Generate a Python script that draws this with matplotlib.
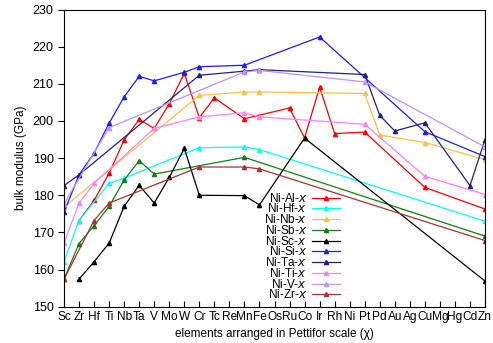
import matplotlib
matplotlib.use("Agg")
import matplotlib.pyplot as plt

plt.rcParams['font.family'] = ['Liberation Sans', 'DejaVu Sans']

# elements in Pettifor order
elements = ['Sc', 'Zr', 'Hf', 'Ti', 'Nb', 'Ta', 'V', 'Mo', 'W', 'Cr', 'Tc', 'Re', 'Mn', 'Fe',
            'Os', 'Ru', 'Co', 'Ir', 'Rh', 'Ni', 'Pt', 'Pd', 'Au', 'Ag', 'Cu', 'Mg', 'Hg', 'Cd', 'Zn']

# each series: which elements it has, and the bulk modulus there
al_el = ['Zr', 'Hf', 'Ti', 'Nb', 'Ta', 'V', 'Mo', 'W', 'Cr', 'Tc', 'Mn', 'Ru', 'Co', 'Ir', 'Rh', 'Pt', 'Cu', 'Zn']
al_b = [173.2, 178.6, 185.9, 194.9, 200.4, 198.0, 204.6, 212.8, 200.9, 206.2, 200.6, 203.5, 195.4, 209.1, 196.6, 197.0, 182.1, 176.3]

hf_el = ['Sc', 'Zr', 'Ti', 'Nb', 'Cr', 'Mn', 'Fe', 'Zn']
hf_b = [162.1, 173.2, 183.2, 184.6, 192.8, 193.0, 192.3, 173.0]

nb_el = ['Sc', 'Cr', 'Mn', 'Fe', 'Pt', 'Pd', 'Cu', 'Zn']
nb_b = [176.8, 206.9, 207.8, 207.8, 207.4, 196.2, 194.2, 189.6]

sb_el = ['Sc', 'Zr', 'Hf', 'Ti', 'Nb', 'Ta', 'V', 'Mn', 'Zn']
sb_b = [157.4, 167.0, 171.8, 177.0, 184.1, 189.3, 185.7, 190.2, 169.0]

sc_el = ['Zr', 'Hf', 'Ti', 'Nb', 'Ta', 'V', 'Mo', 'W', 'Cr', 'Mn', 'Fe', 'Co', 'Zn']
sc_b = [157.4, 162.1, 167.1, 177.0, 182.7, 177.9, 184.8, 192.6, 180.0, 179.9, 177.4, 195.4, 156.9]

si_el = ['Sc', 'Zr', 'Hf', 'Ti', 'Nb', 'Ta', 'V', 'W', 'Cr', 'Mn', 'Ir', 'Cu', 'Zn']
si_b = [175.4, 185.5, 191.3, 199.4, 206.5, 212.0, 210.8, 213.1, 214.6, 215.0, 222.6, 197.1, 190.4]

ta_el = ['Sc', 'Zr', 'Cr', 'Mn', 'Fe', 'Pt', 'Pd', 'Au', 'Cu', 'Cd', 'Zn']
ta_b = [182.6, 185.5, 212.3, 213.4, 213.8, 212.5, 201.5, 197.3, 199.5, 182.6, 195.0]

ti_el = ['Sc', 'Zr', 'Hf', 'V', 'Cr', 'Mn', 'Fe', 'Pt', 'Cu', 'Zn']
ti_b = [167.1, 177.9, 183.2, 198.0, 201.1, 202.2, 201.1, 199.1, 185.1, 180.2]

v_el = ['Sc', 'Ti', 'Mn', 'Fe', 'Pt', 'Zn']
v_b = [177.7, 198.2, 213.2, 213.6, 210.5, 193.0]

zr_el = ['Sc', 'Hf', 'Ti', 'Cr', 'Mn', 'Fe', 'Zn']
zr_b = [157.4, 173.2, 177.9, 187.6, 187.6, 187.1, 167.8]

series = [
    ('Ni-Al-$x$', al_el, al_b, '#ff0000'),
    ('Ni-Hf-$x$', hf_el, hf_b, '#00ffff'),
    ('Ni-Nb-$x$', nb_el, nb_b, '#ffc040'),
    ('Ni-Sb-$x$', sb_el, sb_b, '#108010'),
    ('Ni-Sc-$x$', sc_el, sc_b, '#000000'),
    ('Ni-Si-$x$', si_el, si_b, '#1c1cff'),
    ('Ni-Ta-$x$', ta_el, ta_b, '#202080'),
    ('Ni-Ti-$x$', ti_el, ti_b, '#ff80ff'),
    ('Ni-V-$x$', v_el, v_b, '#c090ff'),
    ('Ni-Zr-$x$', zr_el, zr_b, '#b03030'),
]

fig = plt.figure(figsize=(4.93, 3.43), dpi=100)
ax = fig.add_axes([0.1298, 0.1058, 0.8540, 0.8665])

for name, els, vals, col in series:
    xs = [elements.index(e) for e in els]
    ax.plot(xs, vals, color=col, lw=0.9, marker='^', ms=3, label=name)

ax.set_xlim(0, len(elements) - 1)
ax.set_ylim(150, 230)
ax.set_xticks(range(len(elements)))
ax.set_xticklabels(elements)
ax.set_yticks(range(150, 231, 10))
ax.tick_params(axis='x', direction='in', length=4, labelsize=8.6, pad=3)
ax.tick_params(axis='y', direction='out', length=4, labelsize=9)
ax.set_xlabel('elements arranged in Pettifor scale (χ)', fontsize=8.5)
ax.set_ylabel('bulk modulus (GPa)', fontsize=8.5)

ax.legend(loc='upper right', bbox_to_anchor=(0.67, 0.407), frameon=False, markerfirst=False,
          fontsize=8.5, handlelength=2.4, labelspacing=-0.19, handletextpad=0.4, borderpad=0)

fig.savefig('out.png', dpi=100)
